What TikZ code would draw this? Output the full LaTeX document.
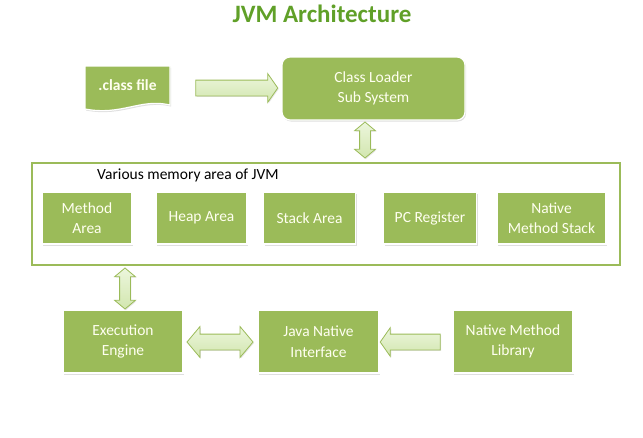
\documentclass[tikz,border=0pt]{standalone}
\usepackage{fontspec}
\setmainfont{Carlito}
\usetikzlibrary{shapes.arrows,shadows,calc}
\definecolor{boxgreen}{RGB}{155,187,89}
\definecolor{titlegreen}{RGB}{96,160,40}
\definecolor{arrtop}{RGB}{236,246,220}
\definecolor{arrbot}{RGB}{210,230,175}
\definecolor{boxtext}{RGB}{255,255,240}
\begin{document}
\begin{tikzpicture}[x=1pt,y=-1pt,
  gbox/.style={fill=boxgreen,draw=white,line width=1.2pt,inner sep=0pt,align=center,
    text=boxtext,font=\fontsize{15.5}{20.5}\selectfont,
    drop shadow={opacity=0.25,shadow xshift=1pt,shadow yshift=-1.5pt}},
  blockarrow/.style={draw=boxgreen,line width=0.8pt,top color=arrtop,bottom color=arrbot,
    drop shadow={opacity=0.2,shadow xshift=1pt,shadow yshift=-1pt}},
  rarrow/.style={blockarrow,single arrow,single arrow tip angle=110},
  darrow/.style={blockarrow,double arrow,double arrow tip angle=100}]
\useasboundingbox (0,0) rectangle (643,437);
% title
\node[font=\fontsize{25}{30}\selectfont\bfseries,text=titlegreen] (title) at (322,14) {JVM Architecture};
% .class file document shape
\path[fill=boxgreen,draw=white,line width=1.2pt,drop shadow={opacity=0.25,shadow xshift=1pt,shadow yshift=-1.5pt}]
  (85,66) -- (170,66) -- (170,105) .. controls (140,98) and (122,116) .. (85,109) -- cycle;
\node[text=boxtext,font=\fontsize{15.5}{18.5}\selectfont\bfseries] (cf) at (127.5,85) {.class file};
% class loader
\node[gbox,rounded corners=8pt,minimum width=183pt,minimum height=63pt] (cl) at (373.5,88.5) {Class Loader\\Sub System};
% memory frame
\node[draw=boxgreen,line width=2.5pt,minimum width=588pt,minimum height=102pt,inner sep=0pt] (frame) at (326,214) {};
\node[anchor=west,font=\fontsize{15.5}{18.5}\selectfont,inner sep=0pt] (mlabel) at (97,175) {Various memory area of JVM};
\node[gbox,minimum width=90pt,minimum height=52pt] (ma) at (87,218) {Method\\Area};
\node[gbox,minimum width=91pt,minimum height=52pt] (ha) at (201.5,218) {Heap Area};
\node[gbox,minimum width=92pt,minimum height=52pt] (sa) at (309.5,218) {Stack Area};
\node[gbox,minimum width=93pt,minimum height=52pt] (pc) at (430,218) {PC Register};
\node[gbox,minimum width=109pt,minimum height=52pt] (nms) at (551.5,218) {Native\\Method Stack};
% bottom row
\node[gbox,minimum width=120pt,minimum height=63pt] (ee) at (123,341.5) {Execution\\Engine};
\node[gbox,minimum width=121pt,minimum height=63pt] (jni) at (318.5,341.5) {Java Native\\Interface};
\node[gbox,minimum width=120pt,minimum height=63pt] (nml) at (513,341.5) {Native Method\\Library};
% block arrows
\node[rarrow,inner sep=7.5pt,minimum height=82pt,single arrow head extend=6.5pt] (a1) at (234,88) {};
\node[darrow,shape border rotate=90,inner sep=5pt,minimum height=36pt,double arrow head extend=5pt] (a2) at (365,140) {};
\node[darrow,shape border rotate=90,inner sep=5pt,minimum height=41pt,double arrow head extend=5pt] (a3) at (125,288.5) {};
\node[darrow,inner sep=7.5pt,minimum height=66pt,double arrow head extend=7.5pt] (a4) at (220,342) {};
\node[rarrow,shape border rotate=180,inner sep=7.5pt,minimum height=60pt,single arrow head extend=6.5pt] (a5) at (413,342) {};
\end{tikzpicture}
\end{document}
